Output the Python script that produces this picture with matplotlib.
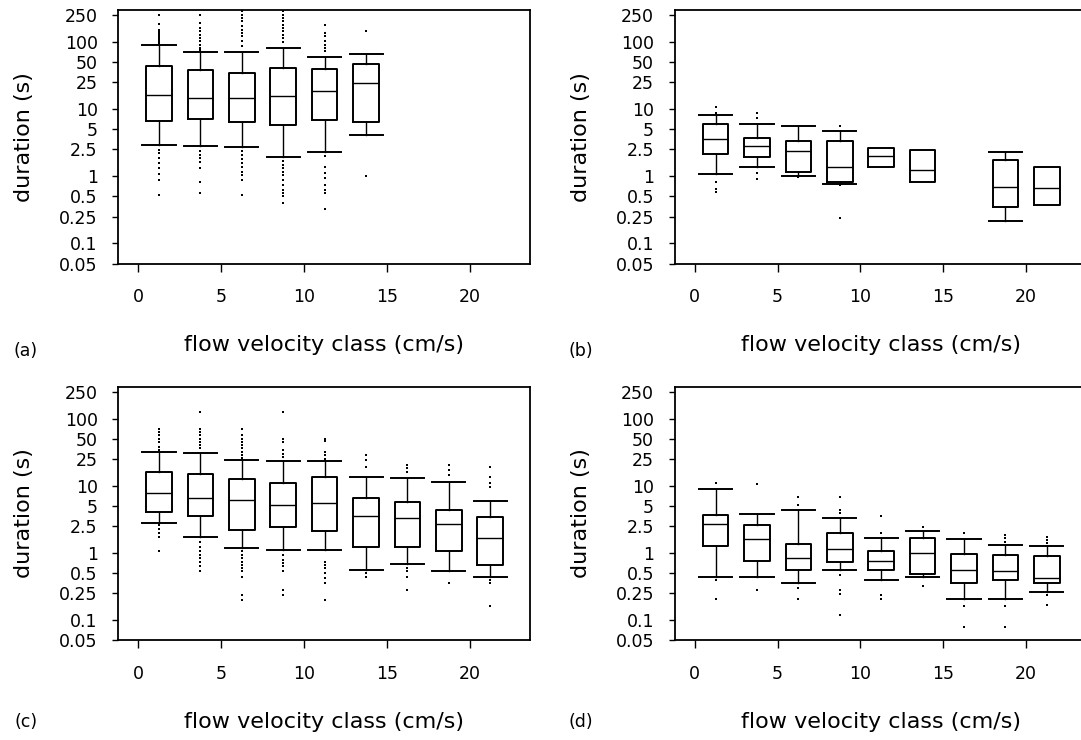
import matplotlib
matplotlib.use("Agg")
import matplotlib.pyplot as plt
from matplotlib.ticker import FixedLocator, FixedFormatter, NullLocator

# velocity classes (cm/s), box centres
a_pos = [1.25, 3.75, 6.25, 8.75, 11.25, 13.75]
a_med = [16.1, 14.5, 14.7, 15.4, 18.7, 24.3]
a_q1 = [6.7, 7.1, 6.4, 5.7, 6.75, 6.4]
a_q3 = [43, 38.4, 34.3, 40.2, 38.9, 46.7]
a_lo = [2.9, 2.76, 2.7, 1.92, 2.25, 4.13]
a_hi = [90.5, 69.5, 69.5, 81, 60, 66.5]
a_out = [
    [254, 185, 150, 140, 132, 125, 118, 112, 106, 100, 95,
     2.47, 2.2, 1.85, 1.56, 1.32, 1.08, 0.88, 0.53],
    [254, 191, 161, 143, 128, 114, 101, 90.5, 81, 76,
     2.33, 2.08, 1.85, 1.6, 1.32, 0.83, 0.56],
    [284, 254, 226, 201, 170, 151, 135, 120, 101, 85,
     2.33, 2.08, 1.79, 1.56, 1.39, 1.17, 1.05, 0.88, 0.53],
    [284, 254, 226, 201, 180, 160, 143, 128, 114, 100,
     1.65, 1.47, 1.32, 1.17, 1.05, 0.88, 0.74, 0.625, 0.56, 0.50, 0.40],
    [180, 135, 121, 102, 91, 81, 72,
     1.96, 1.39, 1.1, 0.93, 0.74, 0.625, 0.56, 0.32],
    [143, 1.0],
]

b_pos = [1.25, 3.75, 6.25, 8.75, 11.25, 13.75, 18.75, 21.25]
b_med = [3.56, 2.83, 2.33, 1.39, 2.01, 1.24, 0.68, 0.66]
b_q1 = [2.13, 1.92, 1.17, 0.83, 1.39, 0.81, 0.35, 0.366]
b_q3 = [5.89, 3.64, 3.29, 3.29, 2.61, 2.41, 1.71, 1.38]
b_lo = [1.06, 1.39, 1.01, 0.76, None, None, 0.216, None]
b_hi = [8.0, 6.03, 5.63, 4.74, None, None, 2.28, None]
b_out = [
    [10.7, 8.7, 0.83, 0.65, 0.59],
    [8.7, 7.3, 1.1, 0.91],
    [0.955],
    [5.63, 0.73, 0.237],
    [], [], [], [],
]

c_pos = [1.25, 3.75, 6.25, 8.75, 11.25, 13.75, 16.25, 18.75, 21.25]
c_med = [7.7, 6.63, 6.12, 5.16, 5.6, 3.54, 3.35, 2.67, 1.69]
c_q1 = [4.02, 3.58, 2.2, 2.46, 2.1, 1.24, 1.23, 1.05, 0.66]
c_q3 = [15.8, 14.9, 12.7, 10.96, 13.3, 6.63, 5.78, 4.35, 3.39]
c_lo = [2.82, 1.75, 1.2, 1.11, 1.11, 0.56, 0.68, 0.53, 0.44]
c_hi = [32, 30.9, 23.8, 23.2, 23.2, 13.6, 13.1, 11.3, 5.92]
c_out = [
    [71, 63, 57, 50, 45, 38, 34, 2.6, 2.3, 1.96, 1.75, 1.05],
    [126, 71, 63, 57, 50, 45, 40, 36,
     1.47, 1.24, 1.05, 0.93, 0.83, 0.74, 0.63, 0.53],
    [71, 57, 50, 45, 40, 36, 32, 28.5, 26.3,
     1.05, 0.93, 0.83, 0.74, 0.66, 0.59, 0.53, 0.445, 0.24, 0.2],
    [126, 49, 45, 34, 30, 27, 0.93, 0.79, 0.70, 0.63, 0.53, 0.28, 0.24],
    [49, 46, 32, 28.5, 25.4, 0.74, 0.66, 0.59, 0.5, 0.42, 0.355, 0.2],
    [28.5, 24, 19, 0.5, 0.445],
    [20.3, 18.1, 16.1, 0.59, 0.53, 0.445, 0.28],
    [20.3, 17, 14.4, 0.355],
    [18.7, 13.3, 10.8, 9.7, 0.4, 0.355, 0.16],
]

d_pos = [1.25, 3.75, 6.25, 8.75, 11.25, 13.75, 16.25, 18.75, 21.25]
d_med = [2.67, 1.61, 0.84, 1.15, 0.77, 1.01, 0.56, 0.53, 0.43]
d_q1 = [1.28, 0.75, 0.55, 0.73, 0.56, 0.49, 0.36, 0.4, 0.355]
d_q3 = [3.71, 2.61, 1.36, 1.96, 1.05, 1.65, 0.96, 0.92, 0.91]
d_lo = [0.44, 0.445, 0.355, 0.55, 0.4, 0.435, 0.208, 0.208, 0.266]
d_hi = [9.02, 3.84, 4.35, 3.27, 1.69, 2.1, 1.61, 1.3, 1.26]
d_out = [
    [10.8, 0.39, 0.205],
    [10.6, 0.28],
    [6.86, 5.2, 0.3, 0.205],
    [6.86, 4.35, 3.9, 0.47, 0.28, 0.245, 0.12],
    [3.54, 1.96, 0.24, 0.205],
    [2.4, 0.32],
    [2.0, 0.16, 0.08],
    [1.85, 1.65, 1.47, 0.16, 0.08],
    [1.75, 1.56, 1.39, 0.24, 0.165],
]

y_ticks = [0.05, 0.1, 0.25, 0.5, 1, 2.5, 5, 10, 25, 50, 100, 250]
y_labels = ["0.05", "0.1", "0.25", "0.5", "1", "2.5", "5", "10", "25", "50", "100", "250"]
x_ticks = [0, 5, 10, 15, 20]


def draw_panel(ax, pos, med, q1, q3, lo, hi, out):
    boxprops = dict(color="black", linewidth=1.4)
    common = dict(widths=1.55, patch_artist=False, boxprops=boxprops,
                  medianprops=dict(color="black", linewidth=1.0),
                  whiskerprops=dict(color="black", linewidth=1.0),
                  capprops=dict(color="black", linewidth=1.4),
                  flierprops=dict(marker="s", markersize=2.1, markerfacecolor="black",
                                  markeredgecolor="black", markeredgewidth=0, linestyle="none"),
                  manage_ticks=False)
    with_whisk, with_pos, bare, bare_pos = [], [], [], []
    for i in range(len(pos)):
        st = dict(med=med[i], q1=q1[i], q3=q3[i], fliers=out[i],
                  whislo=lo[i] if lo[i] is not None else q1[i],
                  whishi=hi[i] if hi[i] is not None else q3[i])
        if lo[i] is None:
            bare.append(st)
            bare_pos.append(pos[i])
        else:
            with_whisk.append(st)
            with_pos.append(pos[i])
    if with_whisk:
        ax.bxp(with_whisk, positions=with_pos, capwidths=2.0, **common)
    if bare:
        ax.bxp(bare, positions=bare_pos, showcaps=False, **common)

    ax.set_yscale("log")
    ax.set_ylim(0.05, 297)
    ax.set_xlim(-1.2, 23.65)
    ax.yaxis.set_major_locator(FixedLocator(y_ticks))
    ax.yaxis.set_major_formatter(FixedFormatter(y_labels))
    ax.yaxis.set_minor_locator(NullLocator())
    ax.set_xticks(x_ticks)
    ax.set_xticklabels([str(t) for t in x_ticks])
    ax.tick_params(axis="y", length=4.5, width=1.0, pad=10.5, labelsize=12.5)
    ax.tick_params(axis="x", length=6, width=1.0, pad=11.5, labelsize=12.5)
    for s in ax.spines.values():
        s.set_linewidth(1.3)
    ax.set_ylabel("duration (s)", fontsize=16)
    ax.yaxis.set_label_coords(-0.205, 0.5)
    ax.set_xlabel("flow velocity class (cm/s)", fontsize=16)
    ax.xaxis.set_label_coords(0.5, -0.282)


fig = plt.figure(figsize=(10.81, 7.40), dpi=100)
w, h = 0.3807, 0.3426
ax_a = fig.add_axes([0.1096, 0.6439, w, h])
ax_b = fig.add_axes([0.6244, 0.6439, w, h])
ax_c = fig.add_axes([0.1096, 0.1347, w, h])
ax_d = fig.add_axes([0.6244, 0.1347, w, h])

draw_panel(ax_a, a_pos, a_med, a_q1, a_q3, a_lo, a_hi, a_out)
draw_panel(ax_b, b_pos, b_med, b_q1, b_q3, b_lo, b_hi, b_out)
draw_panel(ax_c, c_pos, c_med, c_q1, c_q3, c_lo, c_hi, c_out)
draw_panel(ax_d, d_pos, d_med, d_q1, d_q3, d_lo, d_hi, d_out)

for lab, x, y in [("(a)", 0.024, 0.5257), ("(b)", 0.5375, 0.5257),
                  ("(c)", 0.024, 0.0243), ("(d)", 0.5375, 0.0243)]:
    fig.text(x, y, lab, ha="center", va="center", fontsize=12.5)

fig.savefig("out.png", dpi=100)
